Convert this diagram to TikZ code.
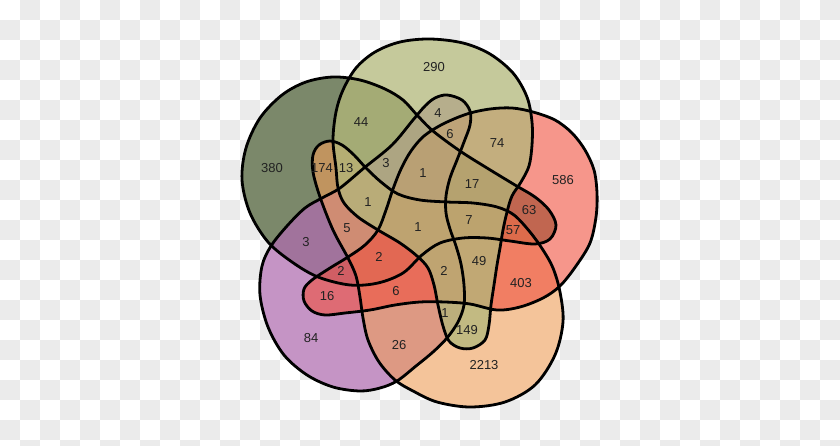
\documentclass[tikz,border=0pt]{standalone}
\usepackage{fontspec}
\setmainfont{Liberation Sans}
\definecolor{bggray}{HTML}{EBEBEB}
\definecolor{colA}{HTML}{233A08}
\definecolor{colB}{HTML}{B2B77A}
\definecolor{colC}{HTML}{F0503F}
\definecolor{colD}{HTML}{EE9D58}
\definecolor{colE}{HTML}{B06BB0}
\definecolor{txt}{HTML}{222222}
\def\shapeA{plot[smooth cycle,tension=0.55] coordinates{(333,77) (360,80) (385,89) (403,100) (417,115) (433,131) (460,151) (487,168) (515,185) (535,197) (549,210) (556,225) (550,239) (535,244) (510,241) (487,238) (463,238) (440,243) (422,255) (403,273) (378,283) (350,285) (318,277) (292,262) (268,242) (250,213) (242,180) (246,148) (260,118) (282,95) (306,82)}}
\def\shapeB{plot[smooth cycle,tension=0.55] coordinates{(336,168) (333,140) (336,112) (343,90) (356,68) (375,52) (400,42) (430,39) (463,43) (490,54) (513,73) (527,97) (532,122) (532,145) (529,166) (521,182) (512,196) (507,212) (503,230) (500,248) (497,265) (494,285) (491,305) (489,325) (485,340) (473,348) (460,348) (449,341) (443,326) (438,305) (434,285) (428,268) (417,256) (400,243) (378,230) (358,217) (344,203) (338,188)}}
\def\shapeC{plot[smooth cycle,tension=0.55] coordinates{(467,114) (490,109) (512,108) (533,112) (555,120) (572,133) (585,150) (594,170) (597,193) (596,217) (590,243) (576,266) (560,286) (543,298) (520,307) (497,310) (470,304) (445,302) (420,302) (395,305) (370,310) (345,313) (325,315) (312,311) (304,301) (304,289) (312,280) (330,268) (348,257) (365,245) (378,230) (386,210) (393,189) (401,169) (411,151) (424,136) (443,124)}}
\def\shapeD{plot[smooth cycle,tension=0.55] coordinates{(330,141) (342,145) (354,155) (366,168) (381,182) (398,194) (420,200) (447,202) (473,203) (497,207) (514,215) (530,232) (543,250) (553,268) (560,292) (563,322) (555,355) (535,385) (505,402) (470,407) (437,402) (413,391) (395,380) (379,362) (368,340) (363,318) (360,297) (356,276) (348,258) (333,230) (320,197) (313,172) (313,155) (319,145)}}
\def\shapeE{plot[smooth cycle,tension=0.55] coordinates{(447,95) (462,100) (470,111) (470,125) (464,142) (457,160) (450,178) (446,196) (446,213) (450,229) (456,246) (461,264) (464,285) (464,305) (458,322) (447,338) (433,352) (416,366) (397,381) (380,388) (360,391) (333,387) (307,375) (284,355) (268,327) (260,295) (262,266) (271,246) (287,226) (305,208) (322,198) (340,188) (364,168) (392,145) (413,120) (425,106) (435,98)}}
\begin{document}
\begin{tikzpicture}[x=1pt,y=-1pt,
  setfill/.style 2 args={fill=#1,fill opacity=#2},
  setline/.style={draw=black,line width=2.8pt,line join=round},
  lab/.style={text=txt,inner sep=0pt,font=\fontsize{13}{15}\selectfont}]
\useasboundingbox (0,0) rectangle (840,446);
\fill[white] (0,0) rectangle (840,446);
\foreach \i in {0,...,41}{\foreach \j in {0,...,22}{%
  \ifodd\numexpr\i+\j\relax \fill[bggray] (\i*20,\j*20) rectangle ++(20,20);\fi}}
% opaque white base under the sets
\fill[white] \shapeA; \fill[white] \shapeB; \fill[white] \shapeC; \fill[white] \shapeD; \fill[white] \shapeE;
% translucent fills, bottom to top
\fill[setfill={colA}{0.6}] \shapeA;
\fill[setfill={colE}{0.72}] \shapeE;
\fill[setfill={colD}{0.6}] \shapeD;
\fill[setfill={colC}{0.6}] \shapeC;
\fill[setfill={colB}{0.75}] \shapeB;
% outlines
\draw[setline] \shapeA; \draw[setline] \shapeB; \draw[setline] \shapeC; \draw[setline] \shapeD; \draw[setline] \shapeE;
% labels
\node[lab] (l290) at (434,67) {290};
\node[lab] (l380) at (272,168) {380};
\node[lab] (l586) at (563,180) {586};
\node[lab] (l2213) at (484,365) {2213};
\node[lab] (l84) at (311,338) {84};
\node[lab] (l44) at (361,122) {44};
\node[lab] (l4) at (438,113) {4};
\node[lab] (l6a) at (450,134) {6};
\node[lab] (l74) at (497,143) {74};
\node[lab] (l174) at (322,168) {174};
\node[lab] (l13) at (346,168) {13};
\node[lab] (l3a) at (386,163) {3};
\node[lab] (l1a) at (423,173) {1};
\node[lab] (l17) at (472,184) {17};
\node[lab] (l1b) at (368,202) {1};
\node[lab] (l63) at (529,210) {63};
\node[lab] (l7) at (469,220) {7};
\node[lab] (l57) at (513,230) {57};
\node[lab] (l5) at (347,228) {5};
\node[lab] (l1c) at (418,227) {1};
\node[lab] (l3b) at (306,242) {3};
\node[lab] (l2a) at (379,257) {2};
\node[lab] (l49) at (479,261) {49};
\node[lab] (l2b) at (341,271) {2};
\node[lab] (l2c) at (444,271) {2};
\node[lab] (l403) at (521,283) {403};
\node[lab] (l16) at (327,296) {16};
\node[lab] (l6b) at (396,291) {6};
\node[lab] (l1d) at (445,313) {1};
\node[lab] (l149) at (467,330) {149};
\node[lab] (l26) at (399,345) {26};
\end{tikzpicture}
\end{document}
